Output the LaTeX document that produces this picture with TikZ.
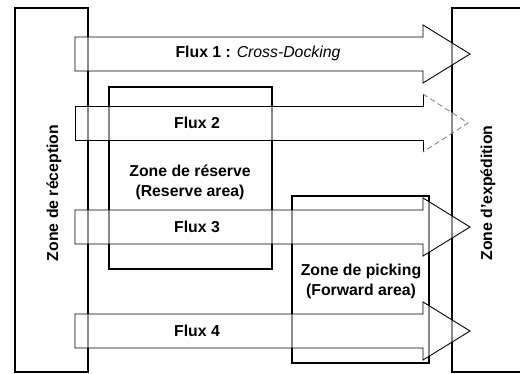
\documentclass[tikz,border=0pt]{standalone}
\usepackage{fontspec}
\setmainfont{Liberation Sans}
\usetikzlibrary{calc}

\begin{document}
\begin{tikzpicture}[x=0.02cm,y=-0.02cm,
		zone/.style={draw, line width=1.3pt},
		flux/.style={draw, line width=0.5pt, fill=white, fill opacity=0.55, draw opacity=1},
		lbl/.style={font=\bfseries\fontsize{9}{11.4}\selectfont, align=center, inner sep=0pt}]
	\useasboundingbox (0,0) rectangle (520,374);
%
	\draw[zone] (15,8) rectangle (88,372);
	\draw[zone] (109,87) rectangle (272,269);
	\draw[zone] (292,196) rectangle (429,363);
	\draw[zone] (525,8) -- (452,8) -- (452,372) -- (525,372);
%
	\foreach \y in {54,227,331}
		\draw[flux] (75,\y-17) -- (423,\y-17) -- (423,\y-29) -- (470,\y)
			-- (423,\y+29) -- (423,\y+17) -- (75,\y+17) -- cycle;
	\fill[white, opacity=0.55] (75,106) -- (423,106) -- (423,94) -- (468,123)
		-- (423,152) -- (423,140) -- (75,140) -- cycle;
	\draw[line width=0.5pt] (423,94) -- (423,106) -- (75,106) -- (75,140) -- (423,140) -- (423,152);
	\draw[line width=0.5pt, gray, densely dashed] (423,94) -- (468,123) -- (423,152);
%
	\node[lbl] (f1) at (258,53) {Flux 1 : {\mdseries\itshape Cross-Docking}};
	\node[lbl] (f2) at (197,123) {Flux 2};
	\node[lbl] (res) at (190,182) {Zone de réserve\\(Reserve area)};
	\node[lbl] (f3) at (197,227) {Flux 3};
	\node[lbl] (f4) at (197,331) {Flux 4};
	\node[lbl] (pick) at (361,281) {Zone de picking\\(Forward area)};
	\node[lbl, rotate=90] (recep) at (54,193) {Zone de réception};
	\node[lbl, rotate=90] (exped) at (488,193) {Zone d'expédition};
\end{tikzpicture}
\end{document}
